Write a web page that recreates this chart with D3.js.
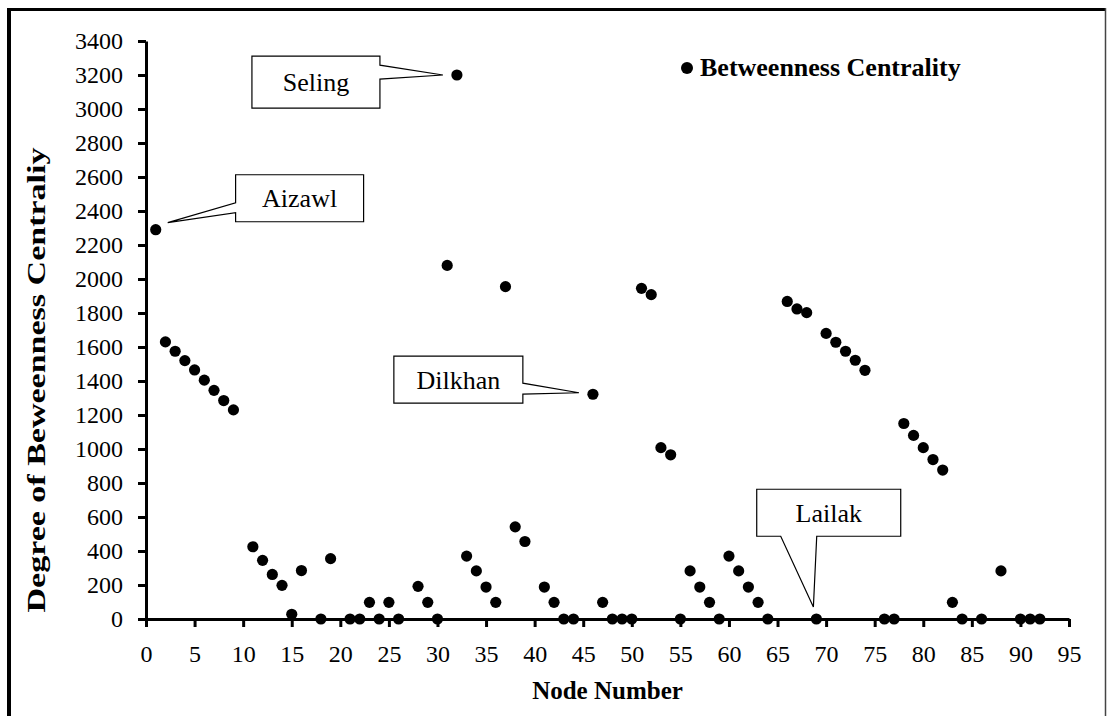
<!DOCTYPE html>
<html>
<head>
<meta charset="utf-8">
<script src="https://d3js.org/d3.v7.min.js"></script>
<style>
  body { margin: 0; background: #fff; }
  svg text { font-family: "Liberation Serif", "Times New Roman", serif; }
</style>
</head>
<body>
<div id="chart"></div>
<script>
// node numbers and their betweenness centrality
var nodes = [1, 2, 3, 4, 5, 6, 7, 8, 9, 11, 12, 13, 14, 15, 16, 18, 19, 21, 22, 23,
             24, 25, 26, 28, 29, 30, 31, 32, 33, 34, 35, 36, 37, 38, 39, 41, 42, 43, 44, 46,
             47, 48, 49, 50, 51, 52, 53, 54, 55, 56, 57, 58, 59, 60, 61, 62, 63, 64, 66, 67,
             68, 69, 70, 71, 72, 73, 74, 76, 77, 78, 79, 80, 81, 82, 83, 84, 86, 88, 90, 91, 92];
var centrality = [2290, 1630, 1575, 1520, 1465, 1405, 1345, 1285, 1230, 425, 345, 262, 198, 28, 285, 0, 355, 0, 0, 98,
                  0, 98, 0, 192, 98, 0, 2080, 3200, 370, 283, 188, 98, 1955, 542, 456, 188, 98, 0, 0, 1322,
                  98, 0, 0, 0, 1945, 1908, 1008, 966, 0, 283, 188, 98, 0, 370, 283, 188, 98, 0, 1868, 1824,
                  1802, 0, 1680, 1628, 1575, 1522, 1463, 0, 0, 1150, 1080, 1008, 938, 876, 98, 0, 0, 283, 0, 0, 0];
var xTicks = d3.range(0, 96, 5);
var yTicks = d3.range(0, 3401, 200);
var seriesName = "Betweenness Centrality";
var xTitle = "Node Number";
var yTitle = "Degree of Beweenness Centraliy";

// callout labels: node they point at, where the box sits (data units)
var calloutNames = ["Seling", "Aizawl", "Dilkhan", "Lailak"];
var calloutNodes = [32, 1, 46, 69];
var calloutBoxX = [17.49, 15.81, 32.15, 70.27];
var calloutBoxY = [3158, 2475, 1408, 625];

var serif = "'Liberation Serif', 'Times New Roman', serif";
var W = 1107, H = 716;
var margin = { top: 41, right: 38, bottom: 97, left: 146 };
var width = W - margin.left - margin.right;
var height = H - margin.top - margin.bottom;

var svg = d3.select("#chart").append("svg")
    .attr("width", W)
    .attr("height", H)
    .attr("font-family", serif);

// page frame (heavy top/left, thin right, open bottom)
svg.append("line").attr("x1", 7).attr("x2", 1106).attr("y1", 9.5).attr("y2", 9.5)
    .attr("stroke", "#000").attr("stroke-width", 3);
svg.append("line").attr("x1", 9).attr("x2", 9).attr("y1", 8).attr("y2", H)
    .attr("stroke", "#000").attr("stroke-width", 4);
svg.append("line").attr("x1", 1105.5).attr("x2", 1105.5).attr("y1", 8).attr("y2", H)
    .attr("stroke", "#444").attr("stroke-width", 1.5);

var g = svg.append("g")
    .attr("transform", "translate(" + margin.left + "," + margin.top + ")");

var x = d3.scaleLinear().domain([0, 95]).range([0, width]);
var y = d3.scaleLinear().domain([0, 3400]).range([height, 0]);

// axes
var xAxis = g.append("g")
    .attr("transform", "translate(0," + height + ")")
    .call(d3.axisBottom(x).tickValues(xTicks).tickFormat(d3.format("d"))
        .tickSize(8).tickSizeOuter(0).tickPadding(18));
var yAxis = g.append("g")
    .call(d3.axisLeft(y).tickValues(yTicks).tickFormat(d3.format("d"))
        .tickSize(8).tickSizeOuter(0).tickPadding(15));

[xAxis, yAxis].forEach(function (a) {
    a.attr("font-family", serif).attr("font-size", 24);
    a.select(".domain").attr("stroke-width", 3);
    a.selectAll(".tick line").attr("stroke-width", 3);
    a.selectAll(".tick text").attr("fill", "#000");
});

// axis titles
svg.append("text")
    .attr("x", margin.left + width / 2)
    .attr("y", 699)
    .attr("text-anchor", "middle")
    .style("font-size", "25px")
    .style("font-weight", "bold")
    .text(xTitle);

svg.append("text")
    .attr("transform", "translate(45,380) rotate(-90)")
    .attr("text-anchor", "middle")
    .attr("textLength", 465)
    .attr("lengthAdjust", "spacingAndGlyphs")
    .style("font-size", "25px")
    .style("font-weight", "bold")
    .text(yTitle);

// points
var data = nodes.map(function (n, i) { return { node: n, value: centrality[i] }; });

g.selectAll(".dot")
    .data(data)
    .enter()
    .append("circle")
    .attr("class", "dot")
    .attr("cx", function (d) { return x(d.node); })
    .attr("cy", function (d) { return y(d.value); })
    .attr("r", 5.6)
    .attr("fill", "#000");

// legend
var legend = g.append("g").attr("transform", "translate(" + (687 - margin.left) + "," + (68 - margin.top) + ")");
legend.append("circle").attr("r", 6).attr("fill", "#000");
legend.append("text")
    .attr("x", 13)
    .attr("y", 8)
    .style("font-size", "26px")
    .style("font-weight", "bold")
    .text(seriesName);

// callouts: box size, which side the pointer leaves from, pointer base and tip offsets
var calloutW = [128, 128, 129, 144];
var calloutH = [52, 47, 47, 47];
var calloutSide = ["right", "left", "right", "bottom"];
var calloutBase = [[9, 23], [28, 38], [27, 38], [24, 60]];
var calloutTip = [[-14, 0], [12, -7], [-14, -1.5], [-3, -12]];

function calloutPath(i) {
    var v = centrality[nodes.indexOf(calloutNodes[i])];
    var px = x(calloutNodes[i]), py = y(v);
    var cx = x(calloutBoxX[i]), cy = y(calloutBoxY[i]);
    var x0 = cx - calloutW[i] / 2, x1 = cx + calloutW[i] / 2;
    var y0 = cy - calloutH[i] / 2, y1 = cy + calloutH[i] / 2;
    var tx = px + calloutTip[i][0], ty = py + calloutTip[i][1];
    var a = calloutBase[i][0], b = calloutBase[i][1];
    var p = d3.path();
    p.moveTo(x0, y0);
    if (calloutSide[i] === "right") {
        p.lineTo(x1, y0); p.lineTo(x1, y0 + a); p.lineTo(tx, ty); p.lineTo(x1, y0 + b);
        p.lineTo(x1, y1); p.lineTo(x0, y1);
    } else if (calloutSide[i] === "left") {
        p.lineTo(x1, y0); p.lineTo(x1, y1); p.lineTo(x0, y1); p.lineTo(x0, y0 + b);
        p.lineTo(tx, ty); p.lineTo(x0, y0 + a);
    } else {
        p.lineTo(x1, y0); p.lineTo(x1, y1); p.lineTo(x0 + b, y1); p.lineTo(tx, ty);
        p.lineTo(x0 + a, y1); p.lineTo(x0, y1);
    }
    p.closePath();
    return p.toString();
}

var callouts = g.selectAll(".callout")
    .data(calloutNames)
    .enter()
    .append("g")
    .attr("class", "callout");

callouts.append("path")
    .attr("d", function (d, i) { return calloutPath(i); })
    .attr("fill", "#fff")
    .attr("stroke", "#000")
    .attr("stroke-width", 1.2);

callouts.append("text")
    .attr("x", function (d, i) { return x(calloutBoxX[i]); })
    .attr("y", function (d, i) { return y(calloutBoxY[i]) + 9; })
    .attr("text-anchor", "middle")
    .style("font-size", "26px")
    .text(function (d) { return d; });
</script>
</body>
</html>
